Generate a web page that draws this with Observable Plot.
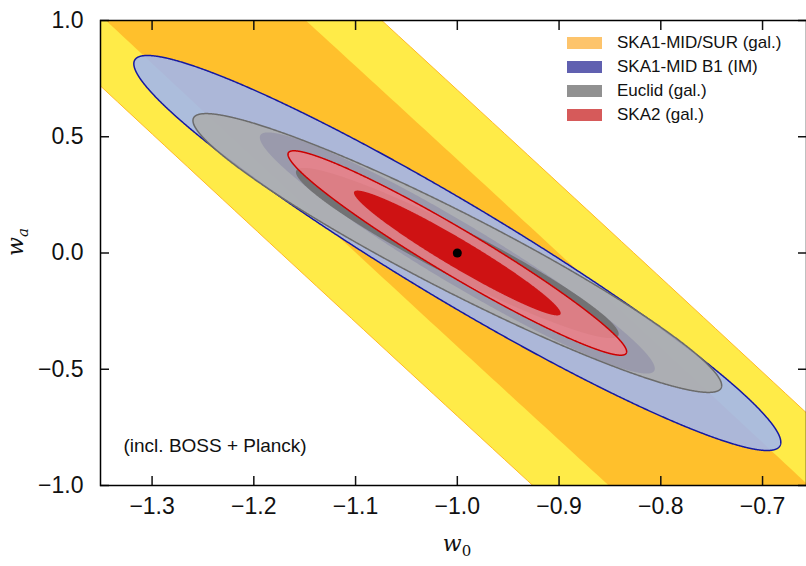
<!DOCTYPE html>
<html>
<head>
<meta charset="utf-8">
<script src="https://cdn.jsdelivr.net/npm/d3@7"></script>
<script src="https://cdn.jsdelivr.net/npm/@observablehq/plot@0.6"></script>
<style>
  body { margin: 0; background: #fff; }
  #chart { position: relative; width: 806px; height: 566px; font-family: "Liberation Sans", Arial, sans-serif; }
  .legend { position: absolute; left: 567px; top: 31px; font-size: 17px; color: #111; }
  .legend .row { display: flex; align-items: center; height: 24px; }
  .legend .sw { width: 35px; height: 12px; margin-right: 15px; }
</style>
</head>
<body>
<div id="chart"></div>
<script>
// Forecast experiments (drawn back to front)
const experiments = ["SKA1-MID/SUR (gal.)", "SKA1-MID B1 (IM)", "Euclid (gal.)", "SKA2 (gal.)"];
// marginal 1-sigma errors on w0 and wa, and their correlation coefficient
const sigmaW0 = [1.0, 0.128, 0.1046, 0.067];
const sigmaWa = [4.0387, 0.342, 0.2414, 0.177];
const corr = [-0.997845, -0.958, -0.95, -0.965];
// fiducial model
const fiducialW0 = -1.0;
const fiducialWa = 0.0;
// delta chi^2 of the inner and outer contour of each experiment
const innerDeltaChi2 = [2.30, 2.30, 2.30, 2.30];
const outerDeltaChi2 = [7.0, 6.17, 6.17, 6.17];

const innerFill = ["#FFB928", "#1619A1", "#6B6B6B", "#CC0000"];
const outerFill = ["#FFE82A", "#9EB6F5", "#ACACAC", "#EE8088"];
const outerEdge = ["#FFB928", "#1619A1", "#6B6B6B", "#CC0000"];
const swatch = ["#FDC46C", "#6060B0", "#919191", "#D65A5A"];

const xTicks = [-1.3, -1.2, -1.1, -1.0, -0.9, -0.8, -0.7];
const yTicks = [-1.0, -0.5, 0.0, 0.5, 1.0];
const xDomain = [-1.3507, -0.6568];
const yDomain = [-1.0, 1.0];

// Outline of the confidence ellipse for experiment i at a given delta chi^2
function ellipse(i, dchi2) {
  const k = Math.sqrt(dchi2);
  const sx = sigmaW0[i], sy = sigmaWa[i], r = corr[i];
  const s = Math.sqrt(1 - r * r);
  return d3.range(0, 1441).map(j => {
    const t = j * Math.PI / 720;
    return {
      w0: fiducialW0 + k * sx * Math.cos(t),
      wa: fiducialWa + k * sy * (r * Math.cos(t) + s * Math.sin(t))
    };
  });
}

const fmt = d => d3.format(".1f")(d).replace("-", "\u2212");

const marks = [];
experiments.forEach((name, i) => {
  marks.push(Plot.line(ellipse(i, outerDeltaChi2[i]), {
    x: "w0", y: "wa", curve: "linear-closed", clip: true,
    fill: outerFill[i], fillOpacity: 0.86,
    stroke: outerEdge[i], strokeWidth: i === 0 ? 1 : 1.5
  }));
  marks.push(Plot.line(ellipse(i, innerDeltaChi2[i]), {
    x: "w0", y: "wa", curve: "linear-closed", clip: true,
    fill: innerFill[i], fillOpacity: 0.86, stroke: "none"
  }));
});

marks.push(
  Plot.dot([{w0: fiducialW0, wa: fiducialWa}], {x: "w0", y: "wa", r: 4.5, fill: "black"}),
  Plot.text(["(incl. BOSS + Planck)"], {frameAnchor: "bottom-left", textAnchor: "start", dx: 23, dy: -34, fontSize: 19, fill: "#111"}),
  // labelled axes
  Plot.axisX(xTicks, {anchor: "bottom", tickSize: 0, tickPadding: 12, tickFormat: fmt, fontSize: 23, label: null}),
  Plot.axisY(yTicks, {anchor: "left", tickSize: 0, tickPadding: 17, tickFormat: fmt, fontSize: 23, label: null}),
  // inward ticks on every side
  Plot.axisX(xTicks, {anchor: "bottom", tickSize: -9, tickFormat: () => "", label: null, strokeWidth: 1.5}),
  Plot.axisX(xTicks, {anchor: "top", tickSize: -9, tickFormat: () => "", label: null, strokeWidth: 1.5}),
  Plot.axisY(yTicks, {anchor: "left", tickSize: -9, tickFormat: () => "", label: null, strokeWidth: 1.5}),
  Plot.axisY(yTicks, {anchor: "right", tickSize: -9, tickFormat: () => "", label: null, strokeWidth: 1.5}),
  Plot.frame({stroke: "black", strokeWidth: 1.5})
);

const chart = Plot.plot({
  width: 806,
  height: 566,
  marginLeft: 100,
  marginRight: 0,
  marginTop: 20,
  marginBottom: 81,
  x: {domain: xDomain, axis: null},
  y: {domain: yDomain, axis: null},
  style: {fontFamily: "Liberation Sans, Arial, sans-serif", color: "#111", background: "white", overflow: "visible"},
  marks
});

// axis titles with italic symbols and subscripts
const svg = d3.select(chart);
const xt = svg.append("text")
  .attr("x", 457).attr("y", 551)
  .attr("text-anchor", "middle")
  .attr("font-family", "DejaVu Serif, serif").attr("font-size", 22).attr("font-style", "italic").attr("fill", "#111");
xt.append("tspan").text("w");
xt.append("tspan").attr("font-size", 15).attr("dy", 5).attr("font-style", "normal").text("0");
const yt = svg.append("text")
  .attr("transform", "translate(23,242) rotate(-90)")
  .attr("text-anchor", "middle")
  .attr("font-family", "DejaVu Serif, serif").attr("font-size", 22).attr("font-style", "italic").attr("fill", "#111");
yt.append("tspan").text("w");
yt.append("tspan").attr("font-size", 15).attr("dy", 5).text("a");

const holder = document.getElementById("chart");
holder.appendChild(chart);

// legend
const legend = document.createElement("div");
legend.className = "legend";
experiments.forEach((name, i) => {
  const row = document.createElement("div");
  row.className = "row";
  const sw = document.createElement("span");
  sw.className = "sw";
  sw.style.background = swatch[i];
  const label = document.createElement("span");
  label.textContent = name;
  row.appendChild(sw);
  row.appendChild(label);
  legend.appendChild(row);
});
holder.appendChild(legend);
</script>
</body>
</html>
